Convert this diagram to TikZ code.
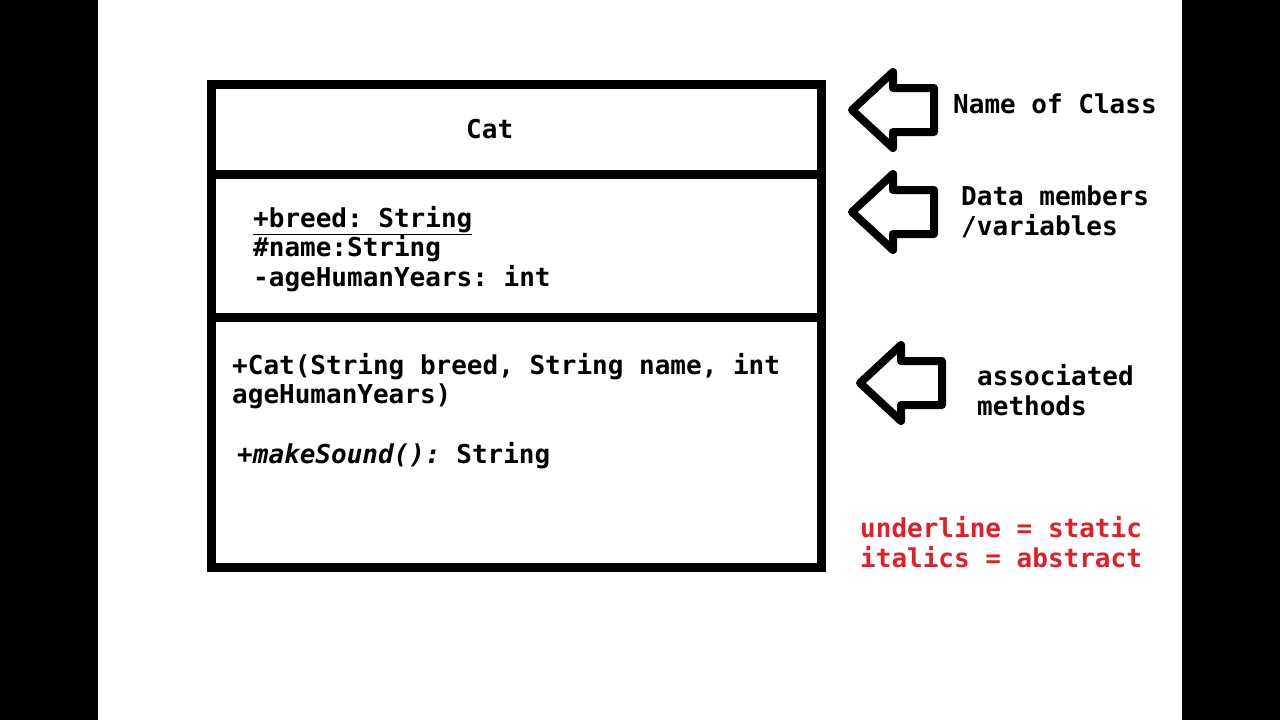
\documentclass[tikz,border=0pt]{standalone}
\usepackage{fontspec}
\setmonofont{DejaVu Sans Mono}
\usetikzlibrary{positioning}
\definecolor{notered}{RGB}{228,30,40}

\tikzset{
  member/.style={anchor=base west, inner sep=0pt, align=left,
    font=\ttfamily\bfseries\fontsize{26}{29.5}\selectfont},
  note/.style={member, text=notered},
  pointer/.pic={
    \draw[line width=8pt, line join=round] (0,0) -- (41,-38) -- (41,-22) -- (82,-22)
      -- (82,22) -- (41,22) -- (41,38) -- cycle;
  }
}

\begin{document}
\begin{tikzpicture}[x=1pt, y=-1pt]
    \useasboundingbox (0,0) rectangle (1280,720);
    \fill[black] (0,0) rectangle (98,720);
    \fill[black] (1182,0) rectangle (1280,720);

    % class box (multi-line nodes sit on their last baseline)
    \draw[line width=9pt] (211.5,84) rectangle (821.5,567);
    \draw[line width=9pt] (211.5,174) -- (821.5,174);
    \draw[line width=9pt] (211.5,317) -- (821.5,317);

    \node[member] (cls) at (466,138) {Cat};
    \node[member] (attrs) at (253,286) {\underline{+breed: String}\\\#name:String\\-ageHumanYears: int};
    \node[member] (ctor) at (232,403.5) {+Cat(String breed, String name, int\\ageHumanYears)};
    \node[member] (meth) at (237,463) {\itshape +makeSound():\upshape{} String};

    % pointers
    \pic at (852,110) {pointer};
    \pic at (852,212) {pointer};
    \pic at (860,383) {pointer};

    \node[member] (lname) at (953,113) {Name of Class};
    \node[member] (lattr) at (961,235) {Data members\\/variables};
    \node[member] (lmeth) at (977,415) {associated\\methods};

    \node[note] (legend) at (860,567) {underline = static\\italics = abstract};
\end{tikzpicture}
\end{document}
